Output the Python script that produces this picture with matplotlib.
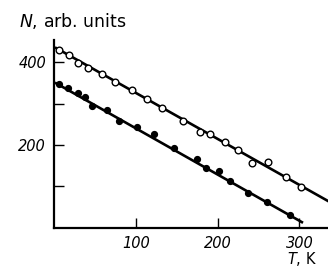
import matplotlib
matplotlib.use("Agg")
import matplotlib.pyplot as plt
import numpy as np

# open circles (upper series)
t_open = [5, 18, 29, 41, 58, 74, 95, 113, 132, 158, 178, 191, 209, 225, 242, 262, 283, 302]
n_open = [429, 417, 398, 386, 371, 352, 333, 311, 289, 258, 231, 227, 207, 188, 157, 159, 123, 99]
# filled circles (lower series)
t_fill = [5, 17, 29, 37, 46, 64, 79, 101, 122, 147, 174, 185, 202, 215, 237, 260, 289]
n_fill = [347, 337, 325, 316, 294, 284, 258, 243, 227, 193, 166, 145, 137, 113, 84, 63, 31]
# fitted lines (endpoints)
fit_open_t = [2, 335]
fit_open_n = [434, 65]
fit_fill_t = [2, 303]
fit_fill_n = [349, 14]

fig = plt.figure(figsize=(3.28, 2.73), dpi=100)
ax = fig.add_axes([0.166, 0.165, 0.834, 0.688])

ax.plot(fit_open_t, fit_open_n, color='black', lw=1.9, zorder=1)
ax.plot(fit_fill_t, fit_fill_n, color='black', lw=1.9, zorder=1)
ax.plot(t_open, n_open, 'o', ms=4.8, mfc='white', mec='black', mew=1.0, zorder=2)
ax.plot(t_fill, n_fill, 'o', ms=4.2, mfc='black', mec='black', zorder=2)

ax.set_xlim(0, 335)
ax.set_ylim(0, 453)
ax.spines['top'].set_visible(False)
ax.spines['right'].set_visible(False)
for s in ('left', 'bottom'):
    ax.spines[s].set_linewidth(1.6)

ax.set_xticks([100, 200, 300])
ax.set_yticks([200, 400])
ax.set_yticks([100, 300], minor=True)
ax.tick_params(direction='in', length=7, width=1.0, pad=6, labelsize=10.5)
ax.tick_params(which='minor', direction='in', length=7, width=1.0)
for lab in ax.get_xticklabels() + ax.get_yticklabels():
    lab.set_fontstyle('italic')

fig.text(0.058, 0.902, '$N$, arb. units', fontsize=12.5, va='baseline', ha='left')
fig.text(0.967, 0.05, '$T$, K', fontsize=10.5, va='center', ha='right')

fig.savefig('out.png', dpi=100)
